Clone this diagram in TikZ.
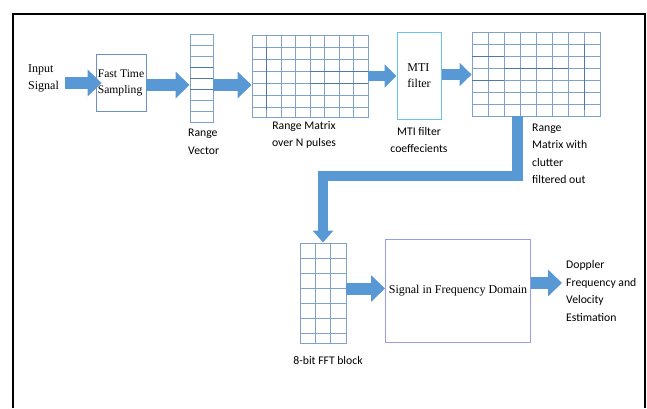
\documentclass[tikz,border=0pt]{standalone}
\usepackage{fontspec}
\setmainfont{Liberation Serif}
\newfontfamily\calfont{Carlito}
\usetikzlibrary{arrows.meta}
\definecolor{arrowc}{RGB}{88,152,212}
\definecolor{gridc}{RGB}{128,162,202}
\definecolor{gridd}{RGB}{80,120,170}
\definecolor{boxc}{RGB}{110,145,195}
\definecolor{mtic}{RGB}{105,195,240}
\definecolor{sigc}{RGB}{155,155,238}
\tikzset{
  serif/.style={font=\fontsize{12}{17}\selectfont, inner sep=0pt},
  sans/.style={font=\calfont\fontsize{11.7}{17.5}\selectfont, inner sep=0pt},
  gridbox/.style={draw=gridc, line width=0.9pt, inner sep=0pt},
  gridline/.style={draw=gridc, line width=0.9pt},
  fat/.style={draw=arrowc, line width=12pt, -{Triangle[width=26pt,length=14pt]}},
  pipe/.style={draw=arrowc, line width=10.5pt, line join=miter, -{Triangle[width=20pt,length=12pt]}}
}
\begin{document}
\begin{tikzpicture}[x=1pt,y=-1pt]
\useasboundingbox (0,0) rectangle (647,408);
% frame
\draw[line width=1.3pt] (13,408) |- (645,14) -- (645,408);

% input text
\node[serif, anchor=west, align=left] (insig) at (28,78) {Input\\Signal};

% fast time sampling
\node[draw=boxc, line width=0.8pt, minimum width=50pt, minimum height=57pt, align=left, inner sep=0.5pt, font=\fontsize{11.6}{16}\selectfont] (fts) at (121,82.5) {Fast Time\\Sampling};

% range vector
\node[gridbox, minimum width=23pt, minimum height=88pt] (rv) at (201.5,78) {};
\foreach \y in {45,56,67,78,89,100,111} \draw[gridline] (190,\y) -- (213,\y);
\foreach \y in {67,78,89} \draw[draw=gridd, line width=0.9pt] (190,\y) -- (213,\y);
\node[sans, anchor=west, align=left] (rvl) at (188,142) {Range\\Vector};

% range matrix 1
\node[gridbox, minimum width=116pt, minimum height=82pt] (rm1) at (310,76) {};
\foreach \x in {266.5,281,295.5,310,324.5,339,353.5} \draw[gridline] (\x,35) -- (\x,117);
\foreach \y in {47,59,71,83,95,107} \draw[gridline] (252,\y) -- (368,\y);
\draw[draw=gridd, line width=0.9pt] (266.5,47) -- (266.5,110);
\draw[draw=gridd, line width=0.9pt] (310,71) -- (368,71);
\draw[draw=gridd, line width=0.9pt] (310,83) -- (368,83);
\node[sans, align=center] (rm1l) at (304,135) {Range Matrix\\over N pulses};

% MTI filter
\node[draw=mtic, line width=1pt, minimum width=44pt, minimum height=87pt, align=left, inner sep=0pt, font=\fontsize{12}{16}\selectfont] (mti) at (419,75.5) {MTI\\filter};
\node[sans, align=center] (mtil) at (419,140) {MTI filter\\coeffecients};

% range matrix 2
\node[gridbox, minimum width=128pt, minimum height=84pt] (rm2) at (536,74) {};
\foreach \x in {488,504,520,536,552,568,584} \draw[gridline] (\x,32) -- (\x,116);
\foreach \y in {44,56,68,80,92,104} \draw[gridline] (472,\y) -- (600,\y);
\draw[draw=gridd, line width=0.9pt] (472,56) -- (504,56);
\draw[draw=gridd, line width=0.9pt] (504,68) -- (568,68);
\draw[draw=gridd, line width=0.9pt] (472,80) -- (504,80);
\draw[draw=gridd, line width=0.9pt] (584,44) -- (584,110);
\node[sans, anchor=west, align=left] (rm2l) at (532,154) {Range\\Matrix with\\clutter\\filtered out};

% FFT block
\node[gridbox, minimum width=46pt, minimum height=100pt] (fft) at (323,293) {};
\foreach \x in {315.3,330.7} \draw[gridline] (\x,243) -- (\x,343);
\foreach \y in {258,273,288,303,318,333} \draw[gridline] (300,\y) -- (346,\y);
\node[sans] (fftl) at (328,360) {8-bit FFT block};

% signal in frequency domain
\node[draw=sigc, line width=1pt, minimum width=144pt, minimum height=103pt, font=\fontsize{12}{16}\selectfont] (sig) at (458,290.5) {Signal in Frequency Domain};

% output text
\node[sans, anchor=west, align=left] (dop) at (566,291) {Doppler\\Frequency and\\Velocity\\Estimation};

% arrows
\draw[fat] ([shift={(6pt,-5pt)}]insig.east) -- ([shift={(6pt,-5pt)}]insig.east -| fts.west);
\draw[fat] ([yshift=-2.5pt]fts.east) -- ([yshift=-2.5pt]fts.east -| rv.west);
\draw[fat] ([yshift=-7pt]rv.east) -- ([yshift=-7pt]rv.east -| rm1.west);
\draw[fat, line width=10.5pt, -{Triangle[width=23pt,length=12pt]}] (rm1.east) -- (rm1.east -| mti.west);
\draw[fat, line width=10.5pt, -{Triangle[width=23pt,length=12pt]}] ([yshift=1pt]mti.east) -- ([yshift=1pt]mti.east -| rm2.west);
\coordinate (bend) at (323,176);
\draw[pipe] ([xshift=46pt]rm2.south west) |- (bend) -- (fft.north);
\draw[fat] ([yshift=4.5pt]fft.east) -- ([yshift=4.5pt]fft.east -| sig.west);
\draw[fat] ([yshift=7.5pt]sig.east) -- ([shift={(-4pt,7.5pt)}]sig.east -| dop.west);
\end{tikzpicture}
\end{document}
